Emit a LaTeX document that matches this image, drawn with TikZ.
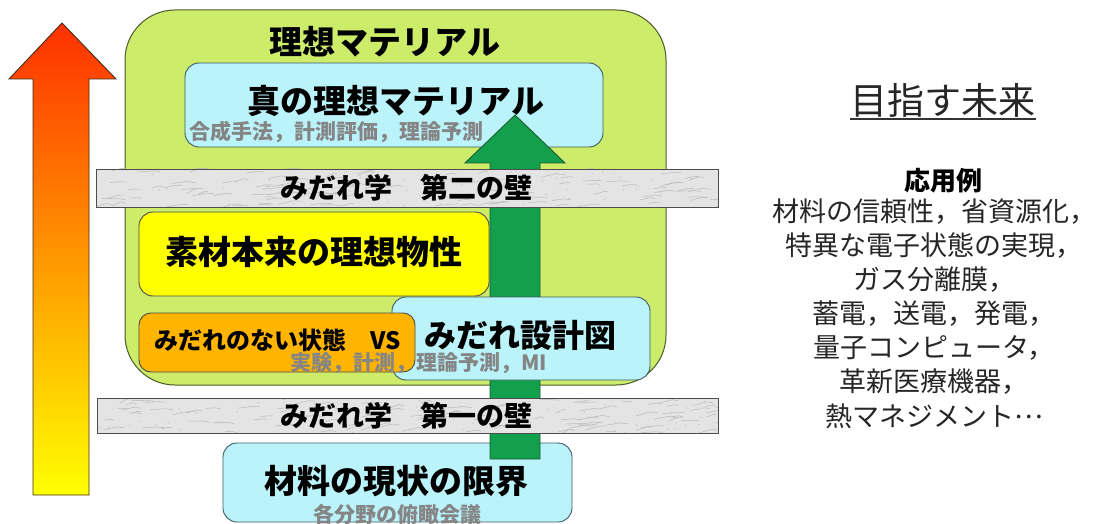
\documentclass[tikz,border=0pt]{standalone}
\usepackage{fontspec}
\newfontfamily\jp{Noto Sans CJK JP}
\definecolor{lgreen}{HTML}{CCEC6A}
\definecolor{gbord}{HTML}{4A5A2A}
\definecolor{lblue}{HTML}{BBF3FB}
\definecolor{bbord}{HTML}{3C5A64}
\definecolor{yel}{HTML}{FFFF00}
\definecolor{orng}{HTML}{FFB400}
\definecolor{garrow}{HTML}{12A04C}
\definecolor{garrowbd}{HTML}{1E5A30}
\definecolor{subgray}{HTML}{858585}
\definecolor{wallfill}{HTML}{E4E4E4}
\definecolor{arrtop}{HTML}{FF3000}
\definecolor{arrmid}{HTML}{FFA000}
\tikzset{
  box/.style={line width=0.9pt, rounded corners=14pt},
  big/.style={font=\jp\bfseries\fontsize{32}{36}\selectfont, inner sep=0pt},
  walltext/.style={font=\jp\bfseries\fontsize{28}{32}\selectfont, inner sep=0pt},
  subtext/.style={font=\jp\bfseries\fontsize{21}{24}\selectfont, text=subgray, inner sep=0pt},
  rtext/.style={font=\jp\fontsize{27}{31}\selectfont, text=black!85, inner sep=0pt},
}
\newcommand{\mywall}[4]{%
  \begin{scope}
    \clip (#1,#2) rectangle (#3,#4);
    \fill[wallfill] (#1,#2) rectangle (#3,#4);
    \pgfmathsetseed{#1#2}
    \foreach \i in {1,...,110}{
      \pgfmathsetmacro\xx{#1+(#3-#1)*rnd}
      \pgfmathsetmacro\yy{#2+(#4-#2)*rnd}
      \pgfmathsetmacro\dx{6+10*rnd}
      \pgfmathsetmacro\dy{-4*rnd}
      \draw[gray!55, line width=0.5pt] (\xx,\yy) -- ++(\dx,\dy) -- ++(0.5*\dx,1.5*rnd);
    }
    \foreach \i in {1,...,60}{
      \pgfmathsetmacro\xx{#1+(#3-#1)*rnd}
      \pgfmathsetmacro\yy{#2+(#4-#2)*rnd}
      \fill[gray!40] (\xx,\yy) circle (0.9pt);
    }
  \end{scope}
  \draw[line width=0.9pt, draw=black!70] (#1,#2) rectangle (#3,#4);
}
\begin{document}
\begin{tikzpicture}[x=1pt,y=-1pt]
\useasboundingbox (0,0) rectangle (1098,524);
% left gradient arrow
\shadedraw[top color=arrtop, middle color=arrmid, bottom color=yel, draw=black!65!brown, line width=0.9pt]
  (33,495) -- (33,79) -- (9,79) -- (62,23) -- (116,79) -- (89,79) -- (89,495) -- cycle;
% big green box
\filldraw[fill=lgreen, draw=gbord, line width=1pt, rounded corners=50pt] (125,10) rectangle (666,385);
\node[font=\jp\bfseries\fontsize{33}{37}\selectfont, inner sep=0pt] (ideal) at (385,42) {理想マテリアル};
% top blue box
\filldraw[box, fill=lblue, draw=bbord] (185,63) rectangle (603,147);
\node[big, font=\jp\bfseries\fontsize{33}{37}\selectfont] (trueideal) at (396,101) {真の理想マテリアル};
\node[subtext, anchor=west] (synth) at (189,132) {合成手法，計測評価，理論予測};
% yellow box
\filldraw[box, fill=yel, draw=black!70] (139,212) rectangle (489,296);
\node[big, font=\jp\bfseries\fontsize{33}{37}\selectfont] (sozai) at (314,252) {素材本来の理想物性};
% bottom box
\filldraw[box, fill=lblue, draw=bbord] (223,443) rectangle (572,522);
\node[big, font=\jp\bfseries\fontsize{33}{37}\selectfont] (genjo) at (396,481) {材料の現状の限界};
\node[subtext] (fukan) at (397,514) {各分野の俯瞰会議};
% green arrow
\filldraw[fill=garrow, draw=garrowbd, line width=0.9pt]
  (490,459) -- (490,163) -- (465,163) -- (515,115) -- (565,163) -- (540,163) -- (540,459) -- cycle;
% wall 2
\mywall{96}{169}{718}{207}
\node[walltext] (wall2) at (406,188) {みだれ学　第二の壁};
% lower blue box
\filldraw[box, fill=lblue, draw=bbord] (392,297) rectangle (650,380);
\node[big] (sekkei) at (520,335) {みだれ設計図};
% orange box
\filldraw[box, rounded corners=12pt, fill=orng, draw=black!70] (139,313) rectangle (415,372);
\node[font=\jp\bfseries\fontsize{24}{28}\selectfont, inner sep=0pt, anchor=west] (nai) at (154,340) {みだれのない状態　VS};
\node[subtext, anchor=east] (jikken) at (547,363) {実験，計測，理論予測，MI};
% wall 1
\mywall{97}{398}{718}{433}
\node[walltext] (wall1) at (406,416) {みだれ学　第一の壁};
% right side
\node[font=\jp\fontsize{37}{41}\selectfont, text=black!85, inner sep=0pt] (mezasu) at (943,100) {目指す未来};
\draw[line width=1.5pt, black!80] (mezasu.south west |- 0,119) -- (mezasu.south east |- 0,119);
\node[font=\jp\bfseries\fontsize{26}{30}\selectfont, inner sep=0pt] (oyo) at (943,181) {応用例};
\node[rtext] (r1) at (934,212) {材料の信頼性，省資源化，};
\node[rtext] (r2) at (934,246) {特異な電子状態の実現，};
\node[rtext] (r3) at (934,280) {ガス分離膜，};
\node[rtext] (r4) at (934,314) {蓄電，送電，発電，};
\node[rtext] (r5) at (934,348) {量子コンピュータ，};
\node[rtext] (r6) at (934,382) {革新医療機器，};
\node[rtext] (r7) at (934,416) {熱マネジメント\raisebox{0.3em}{…}};
\end{tikzpicture}
\end{document}
